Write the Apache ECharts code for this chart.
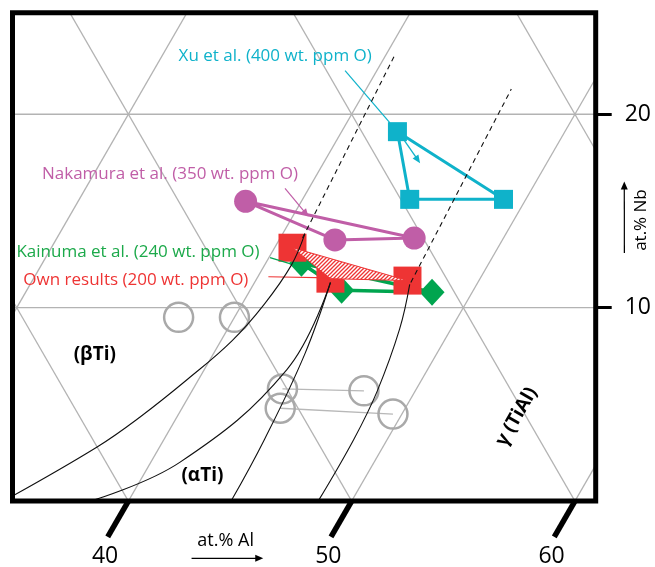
<!DOCTYPE html>
<html><head><meta charset="utf-8">
<script src="https://cdn.jsdelivr.net/npm/echarts@6/dist/echarts.min.js"></script>
<style>html,body{margin:0;padding:0;background:#fff}#c{width:655px;height:567px}</style>
</head><body><div id="c"></div>
<script>
// ---------- data (compositions in at.%) ----------
const xuAl = [42.5, 44.8, 49.0];
const xuNb = [19.1, 15.6, 15.6];
const nakamuraAl = [37.5, 42.5, 46.0];
const nakamuraNb = [15.5, 13.5, 13.6];
const kainumaAl = [41.6, 44.1, 48.2];
const kainumaNb = [12.3, 10.9, 10.8];
const ownAl = [40.8, 43.3, 46.8];
const ownNb = [13.1, 11.5, 11.4];
const refAl = [37.5, 40.0, 44.0, 47.7, 44.4, 49.6];
const refNb = [9.5, 9.5, 5.8, 5.7, 4.8, 4.5];
const refTies = [[2, 3], [4, 5]];
// phase boundaries
const betaAl = [34.4, 37.2, 38.35, 39.5, 40.5, 41.0, 41.2, 41.0];
const betaNb = [0.0, 2.8, 4.35, 6.3, 8.3, 10.2, 12.2, 13.8];
const alphaLeftAl = [38.3, 41.3, 43.7, 43.4];
const alphaLeftNb = [0.0, 2.0, 6.8, 11.3];
const alphaRightAl = [44.6, 44.5, 44.1, 43.4];
const alphaRightNb = [0.0, 3.2, 7.6, 11.3];
const gammaAl = [48.5, 48.5, 48.3, 47.7, 47.0];
const gammaNb = [0.0, 3.2, 5.7, 8.9, 11.2];
const dash1Al = [41.0, 40.4];
const dash1Nb = [13.6, 23.1];
const dash2Al = [47.0, 46.5];
const dash2Nb = [11.3, 21.3];
// axes / grid
const alTicks = [40, 50, 60];
const nbTicks = [10, 20];
const alGrid = [30, 40, 50, 60];
const tiGrid = [30, 40, 50, 60];
const nbGrid = [10, 20];

// ---------- helpers ----------
const T = (al, nb) => [al + nb / 2, nb];          // ternary -> cartesian (X, Nb)
const pts = (A, N) => A.map((a, i) => T(a, N[i]));
const X_MIN = 34.81, X_MAX = 60.93, NB_MAX = 25.25;
const CYAN = '#0fb2ca', MAG = '#c05ea7', GREEN = '#00a54f', GREEN_T = '#1ca94a', RED = '#ee3434', GRAY = '#b3b3b3';
const FONT = 'Open Sans';

function line(data, style, extra) {
  return Object.assign({
    type: 'line', data: data, symbol: 'none', silent: true, animation: false,
    lineStyle: style, emphasis: {disabled: true}
  }, extra || {});
}
function dots(data, symbol, size, style, z) {
  return {type: 'scatter', z: z, silent: true, animation: false, symbol: symbol, symbolSize: size,
    itemStyle: Object.assign({opacity: 1}, style), emphasis: {disabled: true}, data: data};
}

const series = [];
// triangular grid
alGrid.forEach(a => series.push(line([T(a, -1), T(a, 27)], {color: GRAY, width: 1.3}, {z: 1})));
tiGrid.forEach(t => series.push(line([T(100 - t + 1, -1), T(100 - t - 27, 27)], {color: GRAY, width: 1.3}, {z: 1})));
nbGrid.forEach(n => series.push(line([T(20, n), T(80, n)], {color: GRAY, width: 1.3}, {z: 1})));

// reference circles with tie-lines
refTies.forEach(([i, j]) => series.push(line([T(refAl[i], refNb[i]), T(refAl[j], refNb[j])], {color: '#b8b8b8', width: 1.3}, {z: 2})));
series.push(dots(pts(refAl, refNb), 'circle', 29, {color: 'rgba(0,0,0,0)', borderColor: '#a9a9a9', borderWidth: 2.5}, 2));

// data triangles
function tri(A, N, color, width, z) {
  const p = pts(A, N);
  return line([p[0], p[1], p[2], p[0]], {color: color, width: width}, {z: z});
}
series.push(tri(xuAl, xuNb, CYAN, 3, 3));
series.push(dots(pts(xuAl, xuNb), 'rect', 19, {color: CYAN}, 3));
series.push(tri(nakamuraAl, nakamuraNb, MAG, 3, 3));
series.push(dots(pts(nakamuraAl, nakamuraNb), 'circle', 23, {color: MAG}, 3));
series.push(tri(kainumaAl, kainumaNb, GREEN, 3.5, 3));
series.push(dots(pts(kainumaAl, kainumaNb), 'diamond', [25, 27], {color: GREEN}, 3));
series.push(dots(pts(ownAl, ownNb), 'rect', 28, {color: RED}, 4));

// hatched triangle of own results
const pc = document.createElement('canvas'); pc.width = 4; pc.height = 4;
const g = pc.getContext('2d');
g.fillStyle = '#fff'; g.fillRect(0, 0, 4, 4);
g.strokeStyle = RED; g.lineWidth = 1.3;
g.beginPath(); g.moveTo(-1, 5); g.lineTo(5, -1); g.moveTo(-3, 3); g.lineTo(3, -3); g.moveTo(1, 7); g.lineTo(7, 1); g.stroke();
series.push({type: 'custom', z: 5, silent: true, animation: false,
  data: [T(ownAl[0], ownNb[0])],
  renderItem: (params, api) => ({
    type: 'polygon',
    shape: {points: ownAl.map((a, i) => api.coord(T(a, ownNb[i])))},
    style: {fill: {image: pc, repeat: 'repeat'}, stroke: RED, lineWidth: 1}
  })});

// leader lines / arrows
const arrows = [
  {from: [38.58, 22.25], to: [41.94, 19.55], color: CYAN, w: 1.2, head: false},
  {from: [42.82, 18.84], to: [44.33, 17.47], color: CYAN, w: 1.3, head: true},
  {from: [38.93, 16.17], to: [40.71, 14.71], color: MAG, w: 1.2, head: true},
  {from: [40.05, 12.59], to: [41.89, 12.04], color: GREEN, w: 1.3, head: true},
  {from: [40.47, 11.60], to: [43.26, 11.54], color: RED, w: 1.2, head: false},
  {from: [44.31, -2.96], to: [47.52, -2.96], color: '#000', w: 1.2, head: true},
  {from: [55.80, 12.83], to: [53.95, 16.52], color: '#000', w: 1.2, head: true}
];
series.push({type: 'custom', z: 6, silent: true, animation: false, clip: false,
  data: arrows.map(a => T(a.from[0], a.from[1]).concat(T(a.to[0], a.to[1]))),
  encode: {x: [0, 2], y: [1, 3]},
  renderItem: (params, api) => {
    const a = arrows[params.dataIndex];
    const p1 = api.coord([api.value(0), api.value(1)]);
    const p2 = api.coord([api.value(2), api.value(3)]);
    const ang = Math.atan2(p2[1] - p1[1], p2[0] - p1[0]);
    const L = 8, W = 3.5;
    const c = Math.cos(ang), s = Math.sin(ang);
    const end = a.head ? [p2[0] - c * L * 0.8, p2[1] - s * L * 0.8] : p2;
    const ch = [{type: 'line', shape: {x1: p1[0], y1: p1[1], x2: end[0], y2: end[1]}, style: {stroke: a.color, lineWidth: a.w}}];
    if (a.head) {
      const b = [p2[0] - c * L, p2[1] - s * L];
      ch.push({type: 'polygon', shape: {points: [p2, [b[0] - s * W, b[1] + c * W], [b[0] + s * W, b[1] - c * W]]}, style: {fill: a.color}});
    }
    return {type: 'group', children: ch};
  }});

// phase boundaries
const bl = {color: '#111', width: 1.1};
series.push(line(pts(betaAl, betaNb), bl, {z: 7, smooth: 0.4}));
series.push(line(pts(alphaLeftAl, alphaLeftNb), bl, {z: 7, smooth: 0.4}));
series.push(line(pts(alphaRightAl, alphaRightNb), bl, {z: 7, smooth: 0.4}));
series.push(line(pts(gammaAl, gammaNb), bl, {z: 7, smooth: 0.4}));
series.push(line(pts(dash1Al, dash1Nb), {color: '#111', width: 1.1, type: [5, 4]}, {z: 7}));
series.push(line(pts(dash2Al, dash2Nb), {color: '#111', width: 1.1, type: [5, 4]}, {z: 7}));

// frame
series.push(line([[X_MIN, 0], [X_MAX, 0], [X_MAX, NB_MAX], [X_MIN, NB_MAX], [X_MIN, 0]],
  {color: '#000', width: 5, join: 'miter', cap: 'square'}, {z: 10, clip: false}));
// slanted Al ticks
alTicks.forEach(a => series.push(line([T(a, 0), T(a, -1.85)], {color: '#000', width: 5.5, cap: 'butt'}, {z: 10, clip: false})));

// texts
const notes = [
  {at: [35.07, 23.01], text: 'Xu et al. (400 wt. ppm O)', color: CYAN, size: 17},
  {at: [33.41, 16.91], text: 'Nakamura et al. (350 wt. ppm O)', color: MAG, size: 17},
  {at: [34.00, 12.86], text: 'Kainuma et al. (240 wt. ppm O)', color: GREEN_T, size: 17},
  {at: [34.62, 11.43], text: 'Own results (200 wt. ppm O)', color: RED, size: 17},
  {at: [34.72, 7.55], text: '(βTi)', color: '#000', size: 19, bold: true},
  {at: [42.66, 1.31], text: '(αTi)', color: '#000', size: 19, bold: true},
  {at: [55.21, 4.36], text: 'γ (TiAl)', color: '#000', size: 19, bold: true, rotate: 60},
  {at: [45.38, -2.05], text: 'at.% Al', color: '#000', size: 18},
  {at: [55.72, 14.53], text: 'at.% Nb', color: '#000', size: 17, rotate: 90}
];
alTicks.forEach(a => notes.push({at: [a + 0.39, -2.87], text: String(a), color: '#000', size: 23}));
series.push({type: 'scatter', z: 12, silent: true, animation: false, clip: false, symbolSize: 1,
  itemStyle: {color: 'rgba(0,0,0,0)', opacity: 1}, emphasis: {disabled: true},
  data: notes.map(n => ({value: T(n.at[0], n.at[1]), label: {
    show: true, position: 'inside', formatter: n.text, color: n.color, fontSize: n.size, opacity: 1,
    fontFamily: FONT, fontWeight: n.bold ? 'bold' : 'normal', rotate: n.rotate || 0
  }}))});

const chart = echarts.init(document.getElementById('c'), null, {renderer: 'canvas'});
chart.setOption({
  animation: false,
  backgroundColor: '#fff',
  grid: {left: 12.5, right: 59.3, top: 12.7, bottom: 65.9, show: false},
  xAxis: {type: 'value', min: X_MIN, max: X_MAX, show: false},
  yAxis: {type: 'value', position: 'right', min: 0, max: NB_MAX,
    axisLine: {show: false}, splitLine: {show: false},
    axisTick: {show: true, customValues: nbTicks, length: 16, lineStyle: {color: '#000', width: 3}},
    axisLabel: {customValues: nbTicks, margin: 29, fontSize: 23, color: '#000', fontFamily: FONT, padding: [8, 0, 0, 0]}},
  series: series
});
</script></body></html>
